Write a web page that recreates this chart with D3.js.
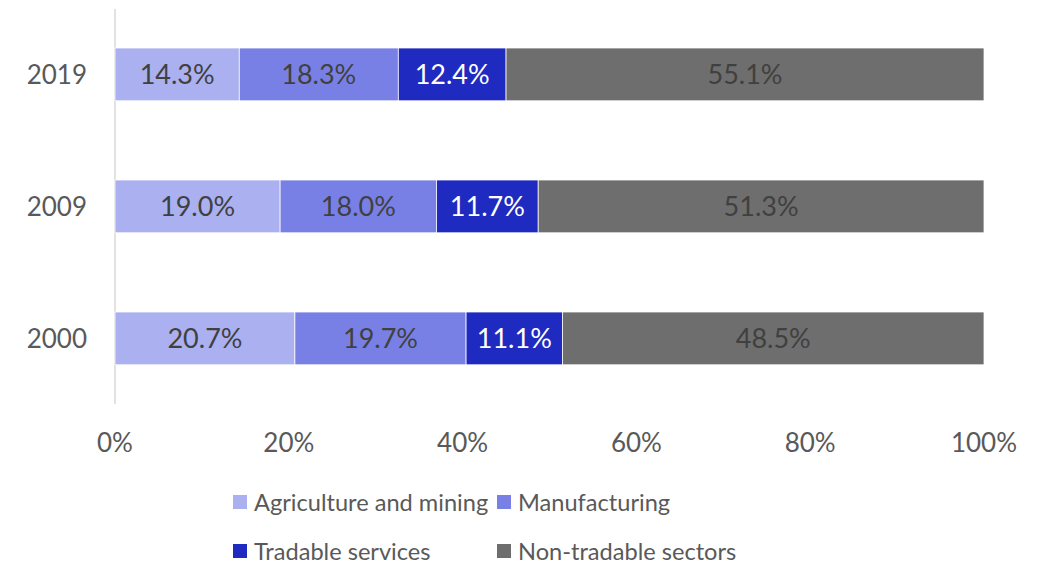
<!DOCTYPE html>
<html>
<head>
<meta charset="utf-8">
<script src="https://cdn.jsdelivr.net/npm/d3@7"></script>
<style>
  body { margin: 0; background: #fff; }
  text { font-family: Lato, "Open Sans", sans-serif; }
</style>
</head>
<body>
<div id="chart"></div>
<script>
'use strict';

// chart data
var years = ['2019', '2009', '2000'];
var sectors = ['Agriculture and mining', 'Manufacturing', 'Tradable services', 'Non-tradable sectors'];
var agriculture = [14.3, 19.0, 20.7];
var manufacturing = [18.3, 18.0, 19.7];
var tradable = [12.4, 11.7, 11.1];
var nonTradable = [55.1, 51.3, 48.5];
var xTicks = [0, 20, 40, 60, 80, 100];

var colors = ['#abb1f0', '#7880e6', '#1f2ac0', '#6e6e6e'];
var labelColors = ['#404040', '#404040', '#ffffff', '#404040'];
var fontSize = 26;

var width = 1043, height = 565;
var svg = d3.select('#chart').append('svg')
	.attr('width', width)
	.attr('height', height);

var x = d3.scaleLinear().domain([0, 100]).range([115, 984]);
var y = d3.scaleBand().domain(years).range([8.4, 404.4]).paddingInner(0.6).paddingOuter(0.3);

// build rows for stacking
var series = [agriculture, manufacturing, tradable, nonTradable];
var rows = years.map(function(yr, i) {
	var r = { year: yr };
	sectors.forEach(function(s, k) { r[s] = series[k][i]; });
	return r;
});
var stacked = d3.stack().keys(sectors)(rows);

// vertical axis line
svg.append('line')
	.attr('x1', x(0)).attr('x2', x(0))
	.attr('y1', 9).attr('y2', 404)
	.attr('stroke', '#d9d9d9')
	.attr('stroke-width', 1.5);

var layers = svg.selectAll('g.layer')
	.data(stacked)
	.enter()
	.append('g')
	.attr('class', 'layer');

layers.each(function(layer, k) {
	var g = d3.select(this);
	g.selectAll('rect')
		.data(layer)
		.enter()
		.append('rect')
		.attr('x', function(d) { return x(d[0]); })
		.attr('y', function(d) { return y(d.data.year); })
		.attr('width', function(d) { return Math.min(x(d[1]), x(100)) - x(d[0]); })
		.attr('height', y.bandwidth())
		.attr('fill', colors[k])
		.attr('stroke', '#ffffff')
		.attr('stroke-width', 0.75);

	g.selectAll('text')
		.data(layer)
		.enter()
		.append('text')
		.attr('x', function(d) { return (x(d[0]) + Math.min(x(d[1]), x(100))) / 2; })
		.attr('y', function(d) { return y(d.data.year) + y.bandwidth() / 2; })
		.attr('dy', '0.36em')
		.attr('text-anchor', 'middle')
		.attr('font-size', 27)
		.attr('fill', labelColors[k])
		.text(function(d) { return d.data[layer.key].toFixed(1) + '%'; });
});

// year labels
svg.selectAll('text.year')
	.data(years)
	.enter()
	.append('text')
	.attr('class', 'year')
	.attr('x', 87)
	.attr('y', function(d) { return y(d) + y.bandwidth() / 2; })
	.attr('dy', '0.36em')
	.attr('text-anchor', 'end')
	.attr('font-size', fontSize)
	.attr('fill', '#595959')
	.text(function(d) { return d; });

// x tick labels
svg.selectAll('text.tick')
	.data(xTicks)
	.enter()
	.append('text')
	.attr('class', 'tick')
	.attr('x', function(d) { return x(d); })
	.attr('y', 452)
	.attr('text-anchor', 'middle')
	.attr('font-size', fontSize)
	.attr('fill', '#595959')
	.text(function(d) { return d + '%'; });

// legend
var legendPos = [
	{ x: 233, y: 502 },
	{ x: 497, y: 502 },
	{ x: 233, y: 551 },
	{ x: 497, y: 551 }
];
var legend = svg.selectAll('g.legend')
	.data(sectors)
	.enter()
	.append('g')
	.attr('class', 'legend')
	.attr('transform', function(d, i) { return 'translate(' + legendPos[i].x + ',' + legendPos[i].y + ')'; });

legend.append('rect')
	.attr('x', 0).attr('y', -7)
	.attr('width', 14).attr('height', 14)
	.attr('fill', function(d, i) { return colors[i]; });

legend.append('text')
	.attr('x', 21)
	.attr('dy', '0.36em')
	.attr('font-size', 23.6)
	.attr('fill', '#595959')
	.text(function(d) { return d; });
</script>
</body>
</html>
